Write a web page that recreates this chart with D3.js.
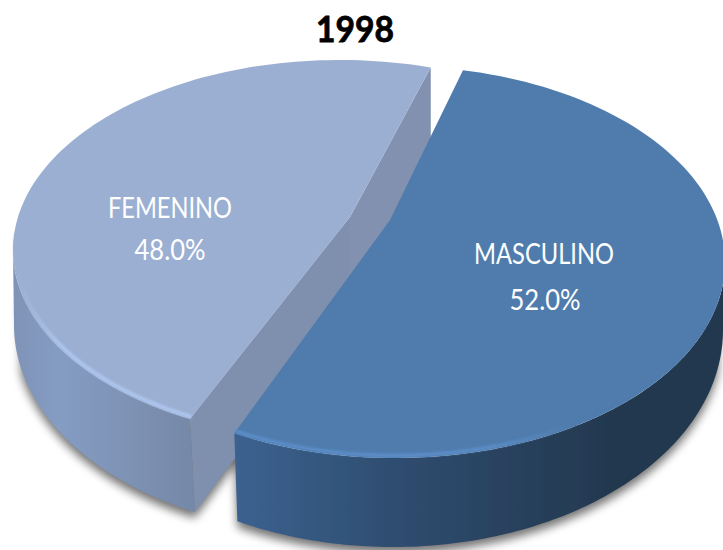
<!DOCTYPE html>
<html><head><meta charset="utf-8">
<script src="https://cdnjs.cloudflare.com/ajax/libs/d3/7.8.5/d3.min.js"></script>
<style>html,body{margin:0;padding:0;background:#fff}svg{display:block}</style>
</head><body><div id="c"></div>
<script>
const title = "1998";
const categories = ["MASCULINO", "FEMENINO"];
const values = [52.0, 48.0];

const W = 723, H = 550;
const deg = Math.PI / 180;
// Look of each exploded slice (perspective view of the 3D pie)
const looks = [
  { top:{cx:395,cy:262,rx:330,ry:196}, bot:{cx:393,cy:330,rx:330,ry:217}, botShift:-1, apex:[390,220], foot:null, turn:0,
    surface:"#4f7cad", glow:"#5c8dc8", wall:["#3c6290","#2f4f72","#29425f","#23384f","#23384f"], wallStops:[0,.3,.55,.78,1],
    label:[544,253], value:[545,299], labelW:140, valueW:71 },
  { top:{cx:340,cy:250,rx:327,ry:190}, bot:{cx:335,cy:325,rx:321,ry:208}, botShift:-1.4, apex:[350,217], foot:[350,305], turn:1.6,
    surface:"#9bafd2", glow:"#aec7f0", wall:["#7f93b6","#859cc3","#8096ba","#7a8dae","#7488a8"], wallStops:[0,.25,.5,.8,1],
    faces:["#8191af","#7f8fae"],
    label:[170,207], value:[170,249], labelW:124, valueW:71 }
];

const svg = d3.select("#c").append("svg").attr("width", W).attr("height", H);
const defs = svg.append("defs");
defs.append("filter").attr("id","soft").attr("x","-5%").attr("y","-5%").attr("width","110%").attr("height","110%")
  .append("feGaussianBlur").attr("stdDeviation",0.6);
defs.append("filter").attr("id","glowBlur").attr("x","-5%").attr("y","-5%").attr("width","110%").attr("height","110%")
  .append("feGaussianBlur").attr("stdDeviation",1.1);
defs.append("filter").attr("id","shadowBlur").attr("x","-10%").attr("y","-10%").attr("width","120%").attr("height","120%")
  .append("feGaussianBlur").attr("stdDeviation",5);

const pie = d3.pie().sort(null).startAngle(15.7*deg).endAngle((15.7+360)*deg);
const arcs = pie(values);

// pie angle -> rim parameter on the foreshortened ellipse
function rimParam(theta, look){
  const e = look.top;
  const ax = (look.apex[0]-e.cx)/e.rx, ay = (look.apex[1]-e.cy)/e.ry;
  const k = Math.hypot(ax,ay), dir = Math.atan2(ax,-ay);
  const phi = theta - dir;
  const v = -Math.cos(phi), u = Math.sin(phi);
  const w = 1 - k*v;
  const vp = (v-k)/w, up = u*Math.sqrt(1-k*k)/w;
  let p = Math.atan2(up,-vp);
  while (p < phi - Math.PI) p += 2*Math.PI;
  while (p > phi + Math.PI) p -= 2*Math.PI;
  return p + dir;
}
const onEllipse = (e,t) => [e.cx + e.rx*Math.sin(t), e.cy - e.ry*Math.cos(t)];
const sampled = (e,t0,t1) => d3.range(0,121).map(i => onEllipse(e, t0+(t1-t0)*i/120));
const line = d3.line();

const shadowLayer = svg.append("g").attr("filter","url(#shadowBlur)").attr("transform","translate(0,6)").attr("opacity",.55);
const pieLayer = svg.append("g").attr("filter","url(#soft)");

const slices = arcs.map((a,i) => {
  const look = looks[i], turn = look.turn*deg;
  return {a, look, t0: rimParam(a.startAngle+turn, look), t1: rimParam(a.endAngle+turn, look)};
});

// draw far/left slice first, near/right slice on top
[1,0].forEach(i => {
  const {look,t0,t1} = slices[i];
  const id = "wall"+i, shift = look.botShift*deg;
  // wall span: the part of the rim facing the viewer
  const rim = i===0 ? sampled(look.top, 90*deg, t1) : sampled(look.top, t0, 270*deg);
  const base = i===0 ? sampled(look.bot, 90*deg, t1+shift) : sampled(look.bot, t0+shift, 270*deg);
  const outline = rim.concat(base.slice().reverse());
  const xs = rim.concat(base).map(p=>p[0]);
  const gx = d3.scaleLinear().domain([0,1]).range([d3.min(xs),d3.max(xs)]);
  const g = defs.append("linearGradient").attr("id",id).attr("gradientUnits","userSpaceOnUse")
    .attr("x1",gx(0)).attr("x2",gx(1)).attr("y1",0).attr("y2",0);
  look.wallStops.forEach((s,j)=>g.append("stop").attr("offset",s).attr("stop-color",look.wall[j]));

  // shadow only from the lower part of the wall, so it does not rise beside the rim
  const shadowRim = i===0 ? sampled(look.top, 100*deg, t1) : sampled(look.top, t0, 258*deg);
  const shadowBase = i===0 ? sampled(look.bot, 100*deg, t1+shift) : sampled(look.bot, t0+shift, 258*deg);
  shadowLayer.append("path").attr("d",line(shadowRim.concat(shadowBase.slice().reverse()))+"Z").attr("fill","#000");

  const group = pieLayer.append("g").attr("class","slice").attr("data-name",categories[i]);

  if (i===1){
    const A = onEllipse(look.top,t1), B = onEllipse(look.top,t0), Bb = onEllipse(look.bot,t0+shift);
    const Ab = [A[0], A[1]+ (look.foot[1]-look.apex[1])];
    shadowLayer.append("path").attr("d",line([look.apex,B,Bb,look.foot])+"Z").attr("fill","#000");
    group.append("path").attr("d",line([A,Ab,look.foot,look.apex])+"Z").attr("fill",look.faces[0]);
    group.append("path").attr("d",line([look.apex,look.foot,Bb,B])+"Z").attr("fill",look.faces[1]);
  }
  group.append("path").attr("d",line(outline)+"Z").attr("fill",`url(#${id})`);
  const top = sampled(look.top,t0,t1);
  group.append("path").attr("d",line([look.apex].concat(top))+"Z").attr("fill",look.surface);

  // glossy bevel along the near rim, inset so it stays inside the surface
  const glowSpan = i===0 ? [t1, t1-62*deg] : [t0, t0+68*deg];
  const gid = "glow"+i;
  const inset = {cx:look.top.cx, cy:look.top.cy, rx:look.top.rx-2.5, ry:look.top.ry-2.5};
  const gl = sampled(inset,glowSpan[0],glowSpan[1]);
  const gg = defs.append("linearGradient").attr("id",gid).attr("gradientUnits","userSpaceOnUse")
    .attr("x1",gl[0][0]).attr("y1",0).attr("x2",gl[gl.length-1][0]).attr("y2",0);
  gg.append("stop").attr("offset",0).attr("stop-color",look.glow);
  gg.append("stop").attr("offset",.75).attr("stop-color",look.glow);
  gg.append("stop").attr("offset",1).attr("stop-color",look.surface);
  group.append("path").attr("d",line(gl)).attr("fill","none").attr("stroke",`url(#${gid})`)
    .attr("stroke-width",3.5).attr("filter","url(#glowBlur)");
});

const fmt = d3.format(".1%"), total = d3.sum(values);
const txt = svg.append("g").attr("font-family","Lato, 'Open Sans', sans-serif").attr("fill","#fff")
  .attr("text-anchor","middle");
categories.forEach((c,i) => {
  const l = looks[i];
  txt.append("text").attr("x",l.label[0]).attr("y",l.label[1]+11).attr("font-size",28)
     .attr("textLength",l.labelW).attr("lengthAdjust","spacingAndGlyphs").text(c);
  txt.append("text").attr("x",l.value[0]).attr("y",l.value[1]+11).attr("font-size",28)
     .attr("textLength",l.valueW).attr("lengthAdjust","spacingAndGlyphs").text(fmt(values[i]/total));
});
svg.append("text").attr("x",355).attr("y",42).attr("text-anchor","middle")
  .attr("font-family","Lato, 'Open Sans', sans-serif").attr("font-weight",700)
  .attr("font-size",36).attr("fill","#000").attr("stroke","#000").attr("stroke-width",.8)
  .attr("textLength",78).attr("lengthAdjust","spacingAndGlyphs").text(title);
</script></body></html>
